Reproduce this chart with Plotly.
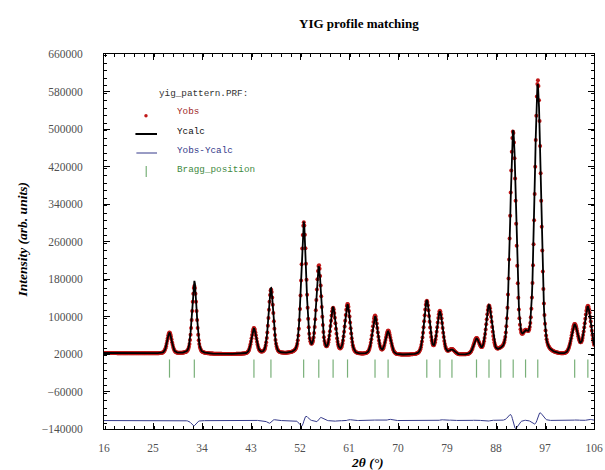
import numpy as np
import plotly.graph_objects as go

# ---- scan settings -------------------------------------------------------
two_theta_start = 16.0
two_theta_end = 106.0
two_theta_step = 0.1

# ---- reflections (2theta in degrees, intensities in counts) ---------------
bragg_pos = [28.03, 32.59, 43.54, 46.66, 52.67, 55.45, 58.08, 60.73, 65.78,
             68.18, 75.29, 77.69, 79.91, 84.42, 86.71, 88.87, 91.16, 93.43,
             95.67, 102.45, 104.87]
calc_amp = [44000, 156000, 54000, 141000, 282000, 184000, 98000, 106000,
            82000, 49000, 116000, 92000, 10000, 33000, 104000, 3000, 478000,
            30000, 578000, 64000, 104000]
obs_amp = [45000, 145000, 55000, 138000, 280000, 187000, 96000, 107000,
           83000, 51000, 115000, 93000, 11000, 34000, 103000, 3500, 475000,
           31000, 585000, 65000, 106000]
obs_pos = [28.03, 32.60, 43.54, 46.68, 52.70, 55.47, 58.08, 60.74, 65.78,
           68.20, 75.29, 77.70, 79.91, 84.42, 86.72, 88.87, 91.13, 93.43,
           95.69, 102.46, 104.88]
peak_fwhm = [1.00, 1.00, 1.05, 1.05, 1.10, 1.10, 1.10, 1.15, 1.15, 1.15,
             1.20, 1.20, 1.20, 1.25, 1.25, 1.30, 1.30, 1.30, 1.35, 1.40, 1.45]

# background points (linear background between them)
bg_knots_x = [16, 30, 50, 70, 90, 106]
bg_knots_y = [22000, 20000, 18000, 16500, 15000, 14000]

diff_offset = -122000
bragg_mark_y = -11000

# ---- profile model --------------------------------------------------------
tth = np.arange(two_theta_start, two_theta_end + two_theta_step / 2, two_theta_step)
background = np.interp(tth, bg_knots_x, bg_knots_y)


def pseudo_voigt(x, center, amp, fwhm, eta=0.3):
    hw = fwhm / 2.0
    gauss = np.exp(-np.log(2.0) * ((x - center) / hw) ** 2)
    lor = 1.0 / (1.0 + ((x - center) / hw) ** 2)
    return amp * (eta * lor + (1 - eta) * gauss)


y_calc = background.copy()
y_obs = background.copy()
for p, a, w in zip(bragg_pos, calc_amp, peak_fwhm):
    y_calc += pseudo_voigt(tth, p, a, w)
for p, a, w in zip(obs_pos, obs_amp, peak_fwhm):
    y_obs += pseudo_voigt(tth, p, a, w)

y_diff = y_obs - y_calc + diff_offset

# ---- figure ---------------------------------------------------------------
obs_color = "#c01818"
diff_color = "#34398a"
bragg_color = "#79b079"

fig = go.Figure()

fig.add_trace(go.Scatter(
    x=tth, y=y_diff, mode="lines",
    line=dict(color=diff_color, width=1), name="Yobs-Ycalc"))

fig.add_trace(go.Scatter(
    x=bragg_pos, y=[bragg_mark_y] * len(bragg_pos), mode="markers",
    marker=dict(symbol="line-ns-open", size=13, color=bragg_color,
                line=dict(color=bragg_color, width=1.2)),
    name="Bragg_position"))

fig.add_trace(go.Scatter(
    x=tth, y=y_obs, mode="markers",
    marker=dict(color=obs_color, size=4), name="Yobs"))

fig.add_trace(go.Scatter(
    x=tth, y=y_calc, mode="lines",
    line=dict(color="black", width=1.8), name="Ycalc"))

# plot area in pixels
L, R, T, B = 104, 603, 54, 429
W, H = 605, 470


def px(xp):
    return (xp - L) / (R - L)


def py(yp):
    return (B - yp) / (B - T)


mono = "Liberation Mono, Courier New, monospace"
serif = "Liberation Serif, Times New Roman, serif"

legend_rows = [
    ("yig_pattern.PRF:", 158, 93, "#333333"),
    ("Yobs", 176, 112, "#a02828"),
    ("Ycalc", 176, 131, "#111111"),
    ("Yobs-Ycalc", 176, 150, diff_color),
    ("Bragg_position", 176, 169, "#3f8a3f"),
]
annotations = []
for txt, xp, yp, col in legend_rows:
    annotations.append(dict(
        text=txt, x=px(xp), y=py(yp), xref="paper", yref="paper",
        xanchor="left", yanchor="middle", showarrow=False,
        font=dict(family=mono, size=9.3, color=col)))

annotations.append(dict(
    text="<b><i>2θ (°)</i></b>", x=px(372), y=py(462), xref="paper", yref="paper",
    xanchor="center", yanchor="middle", showarrow=False,
    font=dict(family=serif, size=13.5, color="black")))
annotations.append(dict(
    text="<b><i>Intensity (arb. units)</i></b>", x=px(20), y=py(240),
    xref="paper", yref="paper", xanchor="center", yanchor="middle",
    textangle=-90, showarrow=False,
    font=dict(family=serif, size=13.5, color="black")))
annotations.append(dict(
    text="<b>YIG profile matching</b>", x=px(364), y=py(23),
    xref="paper", yref="paper", xanchor="center", yanchor="middle",
    showarrow=False, font=dict(family=serif, size=13, color="black")))

shapes = [
    # legend symbols
    dict(type="circle", xref="paper", yref="paper",
         x0=px(145), x1=px(148.5), y0=py(114), y1=py(117.5),
         fillcolor=obs_color, line=dict(width=0)),
    dict(type="line", xref="paper", yref="paper",
         x0=px(136), x1=px(158), y0=py(134), y1=py(134),
         line=dict(color="black", width=2)),
    dict(type="line", xref="paper", yref="paper",
         x0=px(137), x1=px(158), y0=py(153), y1=py(153),
         line=dict(color=diff_color, width=1)),
    dict(type="line", xref="paper", yref="paper",
         x0=px(147), x1=px(147), y0=py(166), y1=py(177),
         line=dict(color=bragg_color, width=1.2)),
]

tickfont = dict(family=serif, size=11.5, color="#505050")

fig.update_layout(
    width=W, height=H,
    margin=dict(l=L, r=W - R, t=T, b=H - B, pad=0),
    paper_bgcolor="white", plot_bgcolor="white",
    showlegend=False,
    annotations=annotations,
    shapes=shapes,
    xaxis=dict(
        range=[two_theta_start, two_theta_end], tick0=16, dtick=9,
        ticks="inside", ticklen=6, tickcolor="black", tickwidth=1,
        minor=dict(dtick=1.8, ticks="inside", ticklen=3, tickcolor="black"),
        showline=True, linecolor="black", linewidth=1, mirror="allticks",
        showgrid=False, zeroline=False, tickfont=tickfont,
        ticklabelstandoff=8, ticklabeloverflow="allow"),
    yaxis=dict(
        range=[-140000, 660000], tick0=-140000, dtick=80000,
        tickformat="d",
        ticks="inside", ticklen=6, tickcolor="black", tickwidth=1,
        minor=dict(dtick=16000, ticks="inside", ticklen=3, tickcolor="black"),
        showline=True, linecolor="black", linewidth=1, mirror="allticks",
        showgrid=False, zeroline=False, tickfont=tickfont,
        ticklabelstandoff=18),
)

fig.write_html("out.html")
